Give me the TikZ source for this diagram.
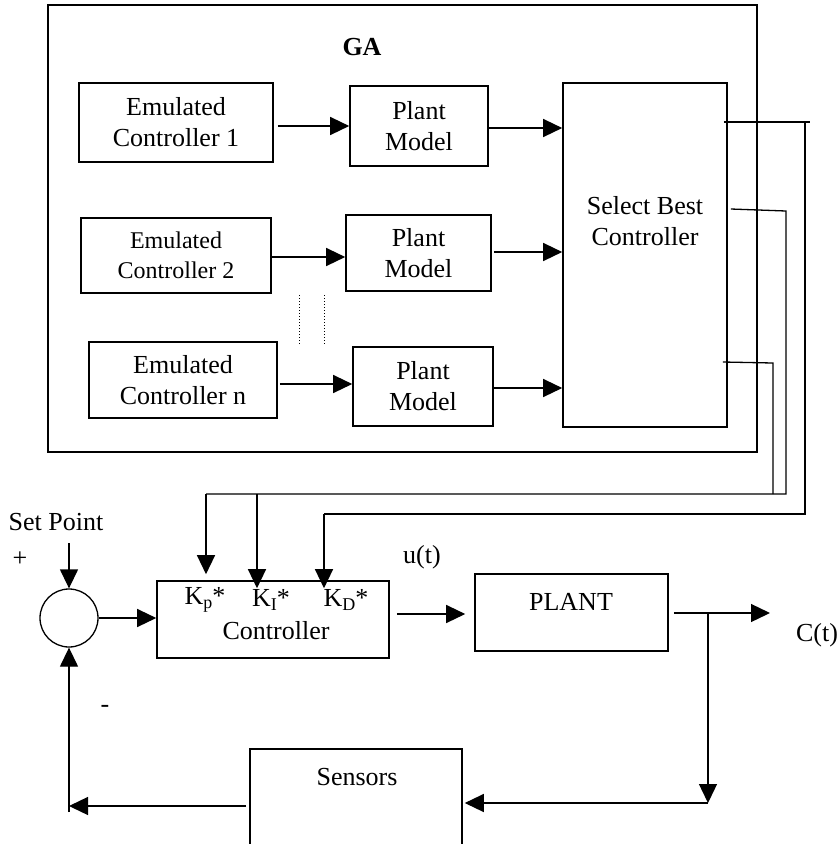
\documentclass[tikz,border=0pt]{standalone}
\usepackage{fontspec}
\setmainfont{Liberation Serif}
\usetikzlibrary{arrows.meta}
\tikzset{
  box/.style={draw, line width=1.6pt, inner sep=0pt, align=center, font=\fontsize{26}{31}\selectfont},
  txt/.style={inner sep=0pt, align=center, font=\fontsize{26}{31}\selectfont},
  conn/.style={line width=1.3pt},
  arr/.style={line width=1.3pt, -{Triangle[length=19pt,width=18pt]}},
  dotln/.style={line width=1pt, dotted}
}
\newcommand{\subK}[1]{K\raisebox{-0.4ex}{\fontsize{18}{18}\selectfont #1}*}
\begin{document}
\begin{tikzpicture}[x=1pt,y=-1pt]
\useasboundingbox (0,0) rectangle (838,844);
\clip (0,0) rectangle (838,844);
% GA block
\node[box, minimum width=709, minimum height=447] (ga) at (402.5,228.5) {};
\node[txt, font=\fontsize{26}{31}\selectfont\bfseries] (gat) at (362,47) {GA};
\node[box, minimum width=194, minimum height=79] (ec1) at (176,122.5) {Emulated\\Controller 1};
\node[box, minimum width=138, minimum height=80] (pm1) at (419,126) {Plant\\Model};
\node[box, minimum width=190, minimum height=75, font=\fontsize{24}{30}\selectfont] (ec2) at (176,255.5) {Emulated\\Controller 2};
\node[box, minimum width=145, minimum height=76] (pm2) at (418.5,253) {Plant\\Model};
\node[box, minimum width=188, minimum height=76] (ecn) at (183,380) {Emulated\\Controller n};
\node[box, minimum width=140, minimum height=79] (pmn) at (423,386.5) {Plant\\Model};
\node[box, minimum width=164, minimum height=344] (sel) at (645,255) {};
\node[txt] (selt) at (645,221) {Select Best\\Controller};
\draw[dotln] (299,295) -- (299,345);
\draw[dotln] (324,295) -- (324,345);
\draw[arr] ([xshift=4pt]ec1.east |- 0,126) -- (pm1.west |- 0,126);
\draw[arr] (pm1.east |- 0,128) -- (sel.west |- 0,128);
\draw[arr] (ec2.east |- 0,257) -- (pm2.west |- 0,257);
\draw[arr] ([xshift=2pt]pm2.east |- 0,252) -- (sel.west |- 0,252);
\draw[arr] ([xshift=2pt]ecn.east |- 0,384) -- (pmn.west |- 0,384);
\draw[arr] (pmn.east |- 0,388) -- (sel.west |- 0,388);
% lower loop
\node[draw, circle, line width=1.3pt, minimum size=58, inner sep=0pt] (sum) at (69,618) {};
\node[box, minimum width=232, minimum height=77] (ctrl) at (273,619.5) {};
\node[txt] (kp) at (205,600) {\subK{p}};
\node[txt] (ki) at (271,600) {\subK{I}};
\node[txt] (kdt) at (346,600) {\subK{D}};
\node[txt] (ctrlt) at (276,631) {Controller};
\node[box, minimum width=193, minimum height=77] (plant) at (571.5,612.5) {};
\node[txt] (plantt) at (571,602) {PLANT};
\node[box, minimum width=212, minimum height=110] (sens) at (356,804) {};
\node[txt] (senst) at (357,777) {Sensors};
\node[txt] (sp) at (56,522) {Set Point};
\node[txt] (plus) at (20,559) {+};
\node[txt] (minus) at (105,709) {-};
\node[txt] (ut) at (422,557) {u(t)};
\node[txt] (ct) at (817,635) {C(t)};
\coordinate (outend) at (770,613);
\coordinate (br) at (708,613);
\coordinate (brd) at (708,803);
\coordinate (fb) at (sum.south |- 0,806);
% right side gain routing
\draw[conn] ([xshift=-4pt]sel.east |- 0,122) -- (810,122);
\draw[conn] (805,122) -- (805,514) -- (324,514);
\draw[arr] (324,514) -- ([yshift=-8pt]ctrl.north -| 324,0);
\draw[conn] ([xshift=3pt]sel.east |- 0,209) -- (786,211) -- (786,494) -- (206,494);
\draw[conn] ([xshift=-5pt]sel.east |- 0,362) -- (773,363) -- (773,494);
\draw[arr] (206,494) -- ([yshift=6pt]ctrl.north -| 206,0);
\draw[arr] (257,494) -- ([yshift=-8pt]ctrl.north -| 257,0);
% main loop
\draw[arr] (sum.north |- 0,543) -- (sum.north);
\draw[arr] (sum.east) -- (ctrl.west |- sum.east);
\draw[arr] ([xshift=7pt]ctrl.east |- 0,614) -- ([xshift=-9pt]plant.west |- 0,614);
\draw[arr] ([xshift=5pt]plant.east |- 0,613) -- (outend);
\draw[arr] (br) -- (brd);
\draw[arr] (brd) -- ([xshift=2pt]sens.east |- brd);
\draw[arr] ([xshift=-3pt]sens.west |- 0,806) -- (fb);
\draw[arr] (sum.south |- 0,812) -- (sum.south);
\end{tikzpicture}
\end{document}
